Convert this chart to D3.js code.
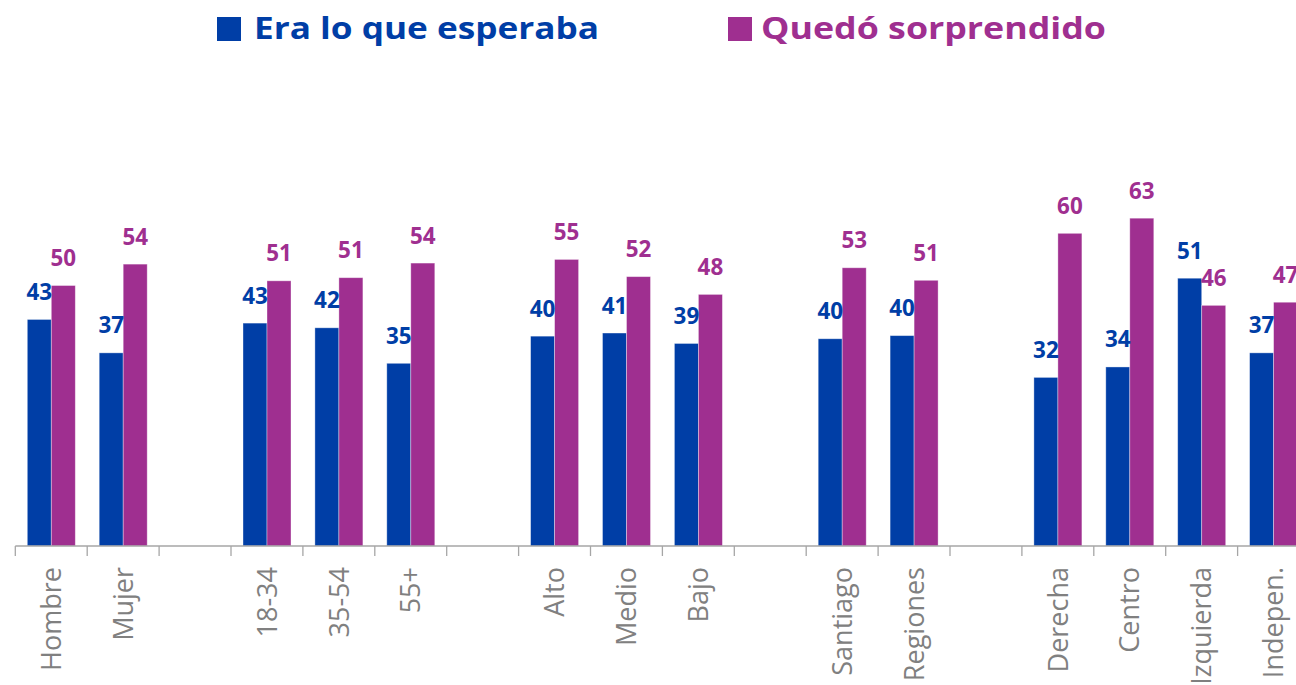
<!DOCTYPE html>
<html>
<head>
<meta charset="utf-8">
<script src="https://cdn.jsdelivr.net/npm/d3@7"></script>
<style>
	html, body { margin: 0; padding: 0; background: #fff; overflow: hidden; }
	svg { display: block; font-family: "Open Sans", "Noto Sans", sans-serif; }
</style>
</head>
<body>
<div class="vis-bars"></div>
<script>
// slots in order, "" = empty gap between groups
const categories = ["Hombre", "Mujer", "", "18-34", "35-54", "55+", "", "Alto", "Medio", "Bajo", "", "Santiago", "Regiones", "", "Derecha", "Centro", "Izquierda", "Indepen."];
const esperaba = [43.4, 37.0, null, 42.7, 41.8, 35.0, null, 40.2, 40.8, 38.8, null, 39.7, 40.3, null, 32.3, 34.3, 51.3, 37.0];
const sorprendido = [49.9, 54.0, null, 50.8, 51.4, 54.2, null, 54.9, 51.6, 48.2, null, 53.3, 50.9, null, 59.9, 62.8, 46.1, 46.7];
const seriesNames = ["Era lo que esperaba", "Quedó sorprendido"];
const seriesColors = ["#003ea6", "#9f2f90"];

let width = 1296;
let height = 685;
const baseY = 546;

const svg = d3.create("svg").attr("width", width).attr("height", height);
d3.select(".vis-bars").append(() => svg.node());

const slots = categories.map((d, i) => i);
const x = d3.scaleBand().domain(slots).range([15.3, 15.3 + 71.9 * categories.length]);
const x1 = d3.scaleBand().domain([0, 1]).range([12, 60]);
const y = d3.scaleLinear().domain([0, 100]).range([baseY, 24]);

const rows = [];
slots.forEach((i) => {
	[esperaba, sorprendido].forEach((vals, s) => {
		if (vals[i] != null) rows.push({ slot: i, s: s, value: vals[i] });
	});
});

// bars
svg.append("g")
	.selectAll("rect")
	.data(rows)
	.join("rect")
	.attr("x", (d) => x(d.slot) + x1(d.s))
	.attr("y", (d) => y(d.value))
	.attr("width", x1.bandwidth())
	.attr("height", (d) => baseY - y(d.value))
	.attr("fill", (d) => seriesColors[d.s])
	.attr("stroke", "rgba(255,255,255,0.45)")
	.attr("stroke-width", 0.8);

// value labels
svg.append("g")
	.selectAll("text")
	.data(rows)
	.join("text")
	.attr("x", (d) => x(d.slot) + x1(d.s) + x1.bandwidth() / 2)
	.attr("y", (d) => y(d.value) - 19.5)
	.attr("text-anchor", "middle")
	.attr("font-weight", 700)
	.attr("font-size", 22.4)
	.attr("fill", (d) => seriesColors[d.s])
	.text((d) => Math.round(d.value));

// x axis: labels centred in slot, ticks on slot boundaries
const axis = svg.append("g").attr("transform", `translate(0,${baseY})`);
axis.call(d3.axisBottom(x).tickSize(0).tickFormat((i) => categories[i]));
axis.select(".domain").remove();
axis.append("line")
	.attr("x1", x.range()[0])
	.attr("x2", width)
	.attr("stroke", "#a6a6a6")
	.attr("stroke-width", 1.3);
axis.append("g")
	.selectAll("line")
	.data(slots.concat([categories.length]))
	.join("line")
	.attr("x1", (i) => x.range()[0] + i * x.step())
	.attr("x2", (i) => x.range()[0] + i * x.step())
	.attr("y1", 0)
	.attr("y2", 10)
	.attr("stroke", "#a6a6a6")
	.attr("stroke-width", 1.3);
axis.selectAll(".tick text")
	.attr("transform", "translate(0,21) rotate(-90)")
	.attr("x", 0)
	.attr("y", 0)
	.attr("dy", "0.36em")
	.attr("text-anchor", "end")
	.attr("font-family", "'Open Sans', sans-serif")
	.attr("font-size", 27)
	.attr("fill", "#808080");

// legend
const legendX = [217, 728];
const legend = svg.append("g")
	.selectAll("g")
	.data(seriesNames)
	.join("g")
	.attr("transform", (d, i) => `translate(${legendX[i]},17)`);
legend.append("rect")
	.attr("width", 24)
	.attr("height", 24)
	.attr("fill", (d, i) => seriesColors[i]);
legend.append("text")
	.attr("x", (d, i) => (i === 0 ? 37 : 33))
	.attr("y", 22)
	.attr("font-weight", 700)
	.attr("font-size", 29.5)
	.attr("textLength", 345)
	.attr("lengthAdjust", "spacingAndGlyphs")
	.attr("fill", (d, i) => seriesColors[i])
	.text((d) => d);
</script>
</body>
</html>
